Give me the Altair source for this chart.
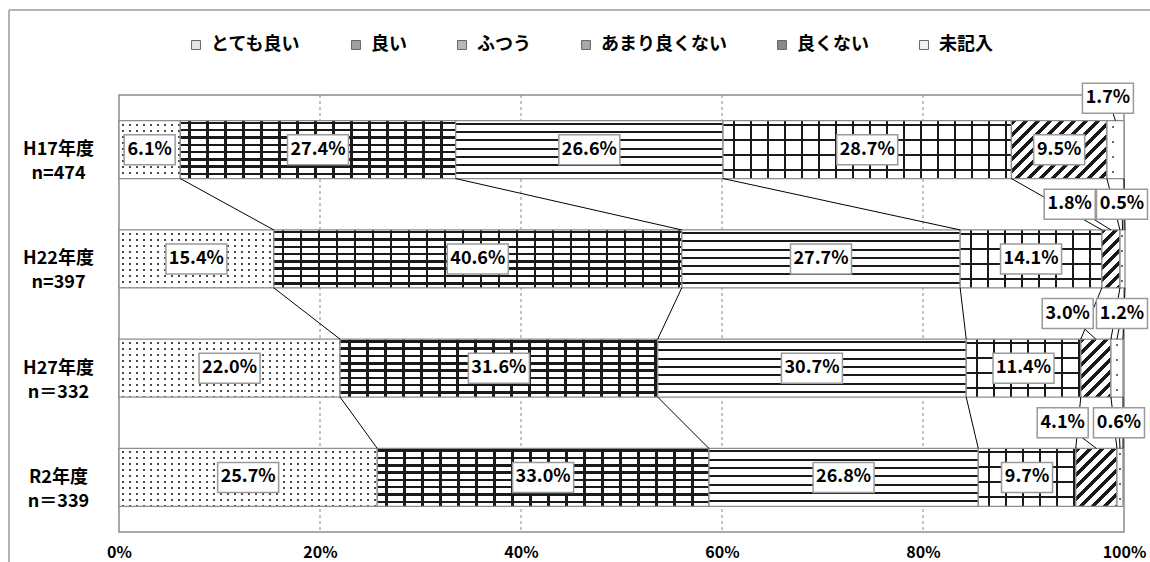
import json
import altair as alt
import pandas as pd

# ---------------- data ----------------
rows = ["H17年度", "H22年度", "H27年度", "R2年度"]
row_n = ["n=474", "n=397", "n＝332", "n＝339"]
cats = ["とても良い", "良い", "ふつう", "あまり良くない", "良くない", "未記入"]
v_h17 = [6.1, 27.4, 26.6, 28.7, 9.5, 1.7]
v_h22 = [15.4, 40.6, 27.7, 14.1, 1.8, 0.5]
v_h27 = [22.0, 31.6, 30.7, 11.4, 3.0, 1.2]
v_r2 = [25.7, 33.0, 26.8, 9.7, 4.1, 0.6]
x_ticks = [0, 20, 40, 60, 80, 100]
grid_at = [20, 40, 60, 80]

# label anchors for the thin segments (x in %, y in row units)
small_label_pos = {
    (0, 5): (98.4, -0.47),
    (1, 4): (94.6, 0.5), (1, 5): (99.8, 0.5),
    (2, 4): (94.4, 1.5), (2, 5): (99.8, 1.5),
    (3, 4): (93.9, 2.5), (3, 5): (99.5, 2.5),
}

# ---------------- layout ----------------
FONT = "Noto Sans CJK JP"
PLOT_W, PLOT_H = 1005, 437
PAD = {"left": 119, "top": 95, "right": 1150 - 119 - PLOT_W, "bottom": 562 - 95 - PLOT_H}
PX_PCT = PLOT_W / 100.0
PX_ROW = PLOT_H / 4.0
BAR_HALF = 0.265
BAR_H = 2 * BAR_HALF * PX_ROW

all_vals = [v_h17, v_h22, v_h27, v_r2]

seg = []
for r, vals in enumerate(all_vals):
    c = 0.0
    for k, v in enumerate(vals):
        seg.append(dict(row=r, k=k, cat=cats[k], value=v, start=round(c, 2),
                        end=round(c + v, 2), y0=r - BAR_HALF, y1=r + BAR_HALF))
        c += v
seg_df = pd.DataFrame(seg)

conn = []
for r in range(len(rows) - 1):
    a = seg_df[seg_df.row == r].sort_values("k")
    b = seg_df[seg_df.row == r + 1].sort_values("k")
    for ea, eb in zip(a["end"], b["end"]):
        conn.append(dict(x=ea, x2=eb, y=r + BAR_HALF, y2=r + 1 - BAR_HALF))
conn_df = pd.DataFrame(conn)

labels, leaders = [], []
for s in seg:
    txt = f"{s['value']:.1f}%"
    key = (s["row"], s["k"])
    mid = (s["start"] + s["end"]) / 2
    if key in small_label_pos:
        lx, ly = small_label_pos[key]
        labels.append(dict(label=txt, x=lx, y=ly))
        leaders.append(dict(x=lx, y=ly, x2=mid, y2=s["row"] - BAR_HALF))
    else:
        labels.append(dict(label=txt, x=mid, y=s["row"]))
lab_df = pd.DataFrame(labels)
lead_df = pd.DataFrame(leaders)
grid_df = pd.DataFrame({"g": grid_at})
one_df = pd.DataFrame({"a": [0]})

# ---------------- scales / axes ----------------
XS = alt.Scale(domain=[0, 100], nice=False, zero=False)
YS = alt.Scale(domain=[-0.5, 3.5], nice=False, zero=False, reverse=True)
XA = alt.Axis(values=x_ticks, labelExpr="datum.value + '%'", grid=False, ticks=False,
              tickSize=0, domain=False, labelPadding=12, labelFlush=False,
              labelFont=FONT, labelFontSize=16, labelFontWeight="bold",
              labelColor="black", title=None, labelOverlap=False)
ylab = json.dumps([[a, b] for a, b in zip(rows, row_n)], ensure_ascii=False)
YA = alt.Axis(values=[0, 1, 2, 3], labelExpr=f"{ylab}[datum.value]", ticks=False,
              tickSize=0, domain=False, grid=False, labelAlign="center",
              labelBaseline="middle", labelPadding=61, labelLineHeight=24,
              labelFont=FONT, labelFontSize=18, labelFontWeight="bold",
              labelColor="black", title=None, labelOverlap=False)


def X(f):
    return alt.X(f, type="quantitative", scale=XS, axis=XA)


def Y(f):
    return alt.Y(f, type="quantitative", scale=YS, axis=YA)


# ---------------- patterns as gradients ----------------
CLEAR = "rgba(0,0,0,0)"
INK = "#1a1a1a"


def stops_for(L, period, thick, offset, dark, light):
    out = [{"offset": 0.0, "color": light}]
    p = offset
    while p < L:
        a = max(p, 0) / L
        b = min(p + thick, L) / L
        out += [{"offset": round(a, 4), "color": light},
                {"offset": round(a, 4), "color": dark},
                {"offset": round(b, 4), "color": dark},
                {"offset": round(b, 4), "color": light}]
        p += period
    out.append({"offset": 1.0, "color": light})
    return out


def grad(kind, W, H, period, thick, offset, dark, light):
    if kind == "h":
        return {"gradient": "linear", "x1": 0, "y1": 0, "x2": 1e-6, "y2": 1,
                "stops": stops_for(H, period, thick, offset, dark, light)}
    if kind == "v":
        return {"gradient": "linear", "x1": 0, "y1": 0, "x2": 1, "y2": 0,
                "stops": stops_for(W, period, thick, offset, dark, light)}
    s = (W + H) * W / (W * W + H * H)
    return {"gradient": "linear", "x1": 0, "y1": 0, "x2": round(s, 5),
            "y2": round(s * H / W, 5),
            "stops": stops_for(W + H, period, thick, offset, dark, light)}


def patterns(k, W, H):
    if k == 0:   # dots
        return [grad("h", W, H, 6, 2, 3, "#4a4a4a", "#ffffff"),
                grad("v", W, H, 7, 2, 3, CLEAR, "#ffffff")]
    if k == 1:   # bricks
        return [grad("h", W, H, 7.3, 2.5, 1, INK, "#ffffff"),
                grad("v", W, H, 18, 2.5, 8, INK, CLEAR)]
    if k == 2:   # horizontal lines
        return [grad("h", W, H, 8.3, 2, 2, INK, "#ffffff")]
    if k == 3:   # grid
        return [grad("h", W, H, 15, 2, 3, INK, "#ffffff"),
                grad("v", W, H, 17, 2, 10, INK, CLEAR)]
    if k == 4:   # diagonal
        return [grad("d", W, H, 12, 5, 0, INK, "#ffffff")]
    return [grad("h", W, H, 15, 2, 5, "#6a6a6a", "#ffffff"),
            grad("v", W, H, 12, 2, max(min(5, W / 2 - 1), 0), CLEAR, "#ffffff")]


layers = []

# outer frame
layers.append(alt.Chart(one_df).mark_rule(color="#9a9a9a", strokeWidth=1.5).encode(
    x=alt.value(-110), x2=alt.value(PLOT_W + 40), y=alt.value(-85)))
layers.append(alt.Chart(one_df).mark_rule(color="#9a9a9a", strokeWidth=1.5).encode(
    x=alt.value(-110), y=alt.value(-85), y2=alt.value(PLOT_H + 40)))

# dashed grid
layers.append(alt.Chart(grid_df).mark_rule(color="#8a8a8a", strokeWidth=1, strokeDash=[3, 3]).encode(
    x=X("g")))

# base bars (legend)
legend = alt.Legend(title=None, orient="none", legendX=68, legendY=-59, direction="horizontal",
                    columns=6, symbolType="square", symbolSize=80, symbolStrokeColor="#666666",
                    symbolStrokeWidth=1, labelFont=FONT, labelFontSize=18, labelFontWeight="bold",
                    labelColor="black", labelOffset=6, columnPadding=46, padding=0, labelLimit=0)
layers.append(alt.Chart(seg_df).mark_rect().encode(
    x=X("start"), x2="end", y=Y("y0"), y2="y1",
    color=alt.Color("cat:N", scale=alt.Scale(domain=cats,
                    range=["#e4e4e4", "#a0a0a0", "#b8b8b8", "#a8a8a8", "#8a8a8a", "#f2f2f2"]),
                    legend=legend)))

# pattern layers per segment
for s in seg:
    W = max(s["value"] * PX_PCT, 1.0)
    pats = patterns(s["k"], W, BAR_H)
    for i, g in enumerate(pats):
        if i == len(pats) - 1:
            mk = alt.Chart(seg_df).mark_rect(fill=g, stroke="#8c8c8c", strokeWidth=1.3)
        else:
            mk = alt.Chart(seg_df).mark_rect(fill=g)
        layers.append(mk.transform_filter(
            f"datum.row == {s['row']} && datum.k == {s['k']}").encode(
            x=X("start"), x2="end", y=Y("y0"), y2="y1"))

# connectors
layers.append(alt.Chart(conn_df).mark_rule(color="black", strokeWidth=1).encode(
    x=X("x"), x2="x2", y=Y("y"), y2="y2"))
# leaders
layers.append(alt.Chart(lead_df).mark_rule(color="black", strokeWidth=1).encode(
    x=X("x"), x2="x2", y=Y("y"), y2="y2"))

# label boxes
layers.append(alt.Chart(lab_df).mark_rect(fill="white", stroke="#9a9a9a", strokeWidth=1.5).transform_calculate(
    hw=f"(length(datum.label) * 10 + 11) / 2 / {PX_PCT}",
    hh=f"15 / {PX_ROW}",
).transform_calculate(
    xa="datum.x - datum.hw", xb="datum.x + datum.hw",
    ya="datum.y - datum.hh", yb="datum.y + datum.hh",
).encode(x=X("xa"), x2="xb", y=Y("ya"), y2="yb"))

# label text
layers.append(alt.Chart(lab_df).mark_text(font=FONT, fontSize=18, fontWeight="bold",
                                           color="black", align="center", baseline="middle").encode(
    x=X("x"), y=Y("y"), text="label:N"))

chart = alt.layer(*layers).properties(
    width=PLOT_W, height=PLOT_H, padding=PAD,
    autosize=alt.AutoSizeParams(type="none"),
    background="white",
).configure_view(stroke="#8c8c8c", strokeWidth=1.5)

chart.save("out.html", embed_options={"renderer": "svg", "actions": False})
